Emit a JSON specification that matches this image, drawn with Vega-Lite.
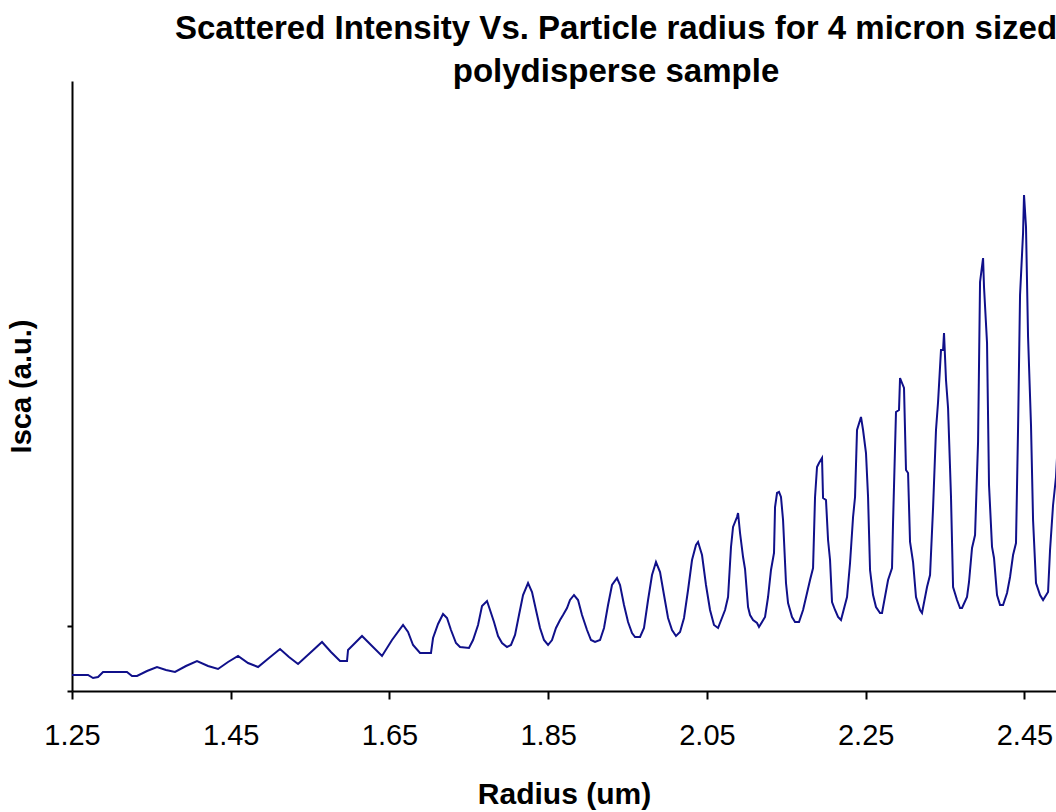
{
  "$schema": "https://vega.github.io/schema/vega-lite/v6.json",
  "width": 984,
  "height": 610,
  "autosize": {"type": "none"},
  "padding": {"left": 72, "top": 81, "right": 0, "bottom": 121},
  "background": "white",
  "config": {"view": {"stroke": null}},
  "title": {
    "text": ["Scattered Intensity Vs. Particle radius for 4 micron sized", "polydisperse sample"],
    "font": "Liberation Sans",
    "fontSize": 33,
    "fontWeight": "bold",
    "color": "black",
    "anchor": "middle",
    "dx": 52,
    "lineHeight": 43,
    "offset": -8
  },
  "data": {
    "values": [
      {"r": 1.25, "i": 16}, {"r": 1.2702, "i": 16}, {"r": 1.2765, "i": 13}, {"r": 1.2828, "i": 14},
      {"r": 1.2891, "i": 19}, {"r": 1.3193, "i": 19}, {"r": 1.3256, "i": 15}, {"r": 1.3319, "i": 15},
      {"r": 1.3445, "i": 20}, {"r": 1.3571, "i": 24}, {"r": 1.3684, "i": 21}, {"r": 1.3798, "i": 19},
      {"r": 1.3936, "i": 25}, {"r": 1.4075, "i": 30}, {"r": 1.4214, "i": 25}, {"r": 1.434, "i": 22},
      {"r": 1.4466, "i": 29}, {"r": 1.4592, "i": 35}, {"r": 1.4718, "i": 28}, {"r": 1.4844, "i": 24},
      {"r": 1.4982, "i": 33}, {"r": 1.5121, "i": 42}, {"r": 1.5234, "i": 34}, {"r": 1.5348, "i": 27},
      {"r": 1.5499, "i": 38}, {"r": 1.565, "i": 49}, {"r": 1.5763, "i": 39}, {"r": 1.5877, "i": 30},
      {"r": 1.5965, "i": 30}, {"r": 1.5978, "i": 41}, {"r": 1.6041, "i": 46}, {"r": 1.6154, "i": 55},
      {"r": 1.628, "i": 45}, {"r": 1.6406, "i": 35}, {"r": 1.6532, "i": 51}, {"r": 1.6671, "i": 66},
      {"r": 1.6734, "i": 59}, {"r": 1.6797, "i": 46}, {"r": 1.6885, "i": 38}, {"r": 1.7023, "i": 38},
      {"r": 1.7049, "i": 53}, {"r": 1.7112, "i": 67}, {"r": 1.7175, "i": 77}, {"r": 1.7225, "i": 73},
      {"r": 1.7275, "i": 61}, {"r": 1.7338, "i": 48}, {"r": 1.7389, "i": 44}, {"r": 1.7502, "i": 43},
      {"r": 1.7553, "i": 51}, {"r": 1.7616, "i": 66}, {"r": 1.7666, "i": 85}, {"r": 1.7729, "i": 90},
      {"r": 1.7767, "i": 81}, {"r": 1.7817, "i": 69}, {"r": 1.7868, "i": 55}, {"r": 1.7918, "i": 48},
      {"r": 1.7981, "i": 44}, {"r": 1.8031, "i": 46}, {"r": 1.8082, "i": 56}, {"r": 1.8132, "i": 76},
      {"r": 1.8183, "i": 96}, {"r": 1.8246, "i": 108}, {"r": 1.8296, "i": 99}, {"r": 1.8346, "i": 81},
      {"r": 1.8397, "i": 63}, {"r": 1.8447, "i": 51}, {"r": 1.8498, "i": 46}, {"r": 1.8548, "i": 51},
      {"r": 1.8598, "i": 63}, {"r": 1.8649, "i": 71}, {"r": 1.8687, "i": 76}, {"r": 1.8737, "i": 83},
      {"r": 1.8775, "i": 91}, {"r": 1.8825, "i": 96}, {"r": 1.8876, "i": 91}, {"r": 1.8926, "i": 76},
      {"r": 1.8989, "i": 61}, {"r": 1.9039, "i": 51}, {"r": 1.909, "i": 49}, {"r": 1.9153, "i": 51},
      {"r": 1.9203, "i": 63}, {"r": 1.9254, "i": 86}, {"r": 1.9304, "i": 106}, {"r": 1.9367, "i": 113},
      {"r": 1.9405, "i": 106}, {"r": 1.9455, "i": 86}, {"r": 1.9506, "i": 69}, {"r": 1.9556, "i": 58},
      {"r": 1.9594, "i": 54}, {"r": 1.9657, "i": 54}, {"r": 1.9707, "i": 63}, {"r": 1.9758, "i": 91},
      {"r": 1.9808, "i": 116}, {"r": 1.9858, "i": 129}, {"r": 1.9909, "i": 119}, {"r": 1.9959, "i": 96},
      {"r": 2.001, "i": 73}, {"r": 2.006, "i": 61}, {"r": 2.011, "i": 55}, {"r": 2.0161, "i": 59},
      {"r": 2.0211, "i": 73}, {"r": 2.0262, "i": 101}, {"r": 2.0312, "i": 131}, {"r": 2.0362, "i": 146},
      {"r": 2.0388, "i": 149}, {"r": 2.0438, "i": 136}, {"r": 2.0488, "i": 106}, {"r": 2.0539, "i": 81},
      {"r": 2.0589, "i": 66}, {"r": 2.064, "i": 63}, {"r": 2.0728, "i": 81}, {"r": 2.0766, "i": 94},
      {"r": 2.0803, "i": 144}, {"r": 2.0829, "i": 164}, {"r": 2.0879, "i": 174}, {"r": 2.0892, "i": 178},
      {"r": 2.0917, "i": 158}, {"r": 2.0955, "i": 134}, {"r": 2.098, "i": 122}, {"r": 2.1018, "i": 84},
      {"r": 2.1043, "i": 76}, {"r": 2.1081, "i": 71}, {"r": 2.1131, "i": 68}, {"r": 2.1156, "i": 64},
      {"r": 2.1232, "i": 74}, {"r": 2.127, "i": 94}, {"r": 2.1307, "i": 121}, {"r": 2.1345, "i": 138},
      {"r": 2.1358, "i": 184}, {"r": 2.1383, "i": 198}, {"r": 2.1408, "i": 199}, {"r": 2.1433, "i": 194},
      {"r": 2.1459, "i": 171}, {"r": 2.1496, "i": 108}, {"r": 2.1522, "i": 88}, {"r": 2.1572, "i": 74},
      {"r": 2.161, "i": 69}, {"r": 2.166, "i": 69}, {"r": 2.1711, "i": 81}, {"r": 2.1761, "i": 98},
      {"r": 2.1799, "i": 111}, {"r": 2.1837, "i": 123}, {"r": 2.1862, "i": 194}, {"r": 2.1887, "i": 224},
      {"r": 2.1912, "i": 228}, {"r": 2.195, "i": 233}, {"r": 2.1963, "i": 193}, {"r": 2.2, "i": 191},
      {"r": 2.2026, "i": 151}, {"r": 2.2051, "i": 131}, {"r": 2.2076, "i": 89}, {"r": 2.2114, "i": 81},
      {"r": 2.2152, "i": 74}, {"r": 2.2189, "i": 71}, {"r": 2.2265, "i": 94}, {"r": 2.2303, "i": 128},
      {"r": 2.2341, "i": 174}, {"r": 2.2366, "i": 194}, {"r": 2.2391, "i": 261}, {"r": 2.2441, "i": 274},
      {"r": 2.2467, "i": 261}, {"r": 2.2504, "i": 238}, {"r": 2.253, "i": 194}, {"r": 2.2555, "i": 121},
      {"r": 2.2593, "i": 96}, {"r": 2.263, "i": 84}, {"r": 2.2681, "i": 78}, {"r": 2.2706, "i": 78},
      {"r": 2.2782, "i": 111}, {"r": 2.2832, "i": 123}, {"r": 2.2845, "i": 169}, {"r": 2.2882, "i": 279},
      {"r": 2.292, "i": 281}, {"r": 2.2933, "i": 313}, {"r": 2.2958, "i": 308}, {"r": 2.2983, "i": 303},
      {"r": 2.3008, "i": 221}, {"r": 2.3034, "i": 218}, {"r": 2.3059, "i": 149}, {"r": 2.3097, "i": 129},
      {"r": 2.3134, "i": 94}, {"r": 2.3185, "i": 81}, {"r": 2.321, "i": 78}, {"r": 2.3273, "i": 104},
      {"r": 2.3311, "i": 116}, {"r": 2.3349, "i": 183}, {"r": 2.3386, "i": 261}, {"r": 2.3412, "i": 289},
      {"r": 2.3449, "i": 341}, {"r": 2.3475, "i": 341}, {"r": 2.3487, "i": 358}, {"r": 2.3512, "i": 311},
      {"r": 2.3538, "i": 283}, {"r": 2.3575, "i": 194}, {"r": 2.3601, "i": 104}, {"r": 2.3651, "i": 91},
      {"r": 2.3689, "i": 83}, {"r": 2.3714, "i": 83}, {"r": 2.3777, "i": 94}, {"r": 2.3802, "i": 109},
      {"r": 2.384, "i": 143}, {"r": 2.3878, "i": 156}, {"r": 2.3916, "i": 249}, {"r": 2.3941, "i": 409},
      {"r": 2.3979, "i": 433}, {"r": 2.3991, "i": 404}, {"r": 2.4029, "i": 348}, {"r": 2.4054, "i": 206},
      {"r": 2.4092, "i": 144}, {"r": 2.4117, "i": 133}, {"r": 2.4155, "i": 96}, {"r": 2.4193, "i": 86},
      {"r": 2.4231, "i": 86}, {"r": 2.4281, "i": 98}, {"r": 2.4319, "i": 114}, {"r": 2.4357, "i": 136},
      {"r": 2.4394, "i": 148}, {"r": 2.442, "i": 263}, {"r": 2.4445, "i": 396}, {"r": 2.4483, "i": 458},
      {"r": 2.4495, "i": 496}, {"r": 2.452, "i": 464}, {"r": 2.4546, "i": 354}, {"r": 2.4583, "i": 266},
      {"r": 2.4609, "i": 171}, {"r": 2.4646, "i": 108}, {"r": 2.4697, "i": 96}, {"r": 2.4735, "i": 91},
      {"r": 2.4798, "i": 99}, {"r": 2.4823, "i": 141}, {"r": 2.4861, "i": 186}, {"r": 2.4898, "i": 214},
      {"r": 2.4949, "i": 291}
    ]
  },
  "mark": {"type": "line", "color": "#10108a", "strokeWidth": 2, "clip": true},
  "encoding": {
    "x": {
      "field": "r",
      "type": "quantitative",
      "scale": {"domain": [1.25, 2.4898], "nice": false, "zero": false},
      "axis": {
        "title": "Radius (um)",
        "values": [1.25, 1.45, 1.65, 1.85, 2.05, 2.25, 2.45],
        "format": ".2f",
        "grid": false,
        "domainColor": "black",
        "domainWidth": 2,
        "tickColor": "black",
        "tickWidth": 2,
        "tickSize": 8,
        "labelFont": "Liberation Sans",
        "labelFontSize": 29,
        "labelColor": "black",
        "labelPadding": 22,
        "labelFlush": false,
        "labelOverlap": false,
        "titleFont": "Liberation Sans",
        "titleFontSize": 30,
        "titleFontWeight": "bold",
        "titleColor": "black",
        "titlePadding": 29
      }
    },
    "y": {
      "field": "i",
      "type": "quantitative",
      "scale": {"domain": [0, 610], "nice": false, "zero": true},
      "axis": {
        "title": "Isca (a.u.)",
        "values": [0, 65],
        "labels": false,
        "grid": false,
        "domainColor": "black",
        "domainWidth": 2,
        "tickColor": "black",
        "tickWidth": 2,
        "tickSize": 5,
        "titleFont": "Liberation Sans",
        "titleFontSize": 29,
        "titleFontWeight": "bold",
        "titleColor": "black",
        "titlePadding": 30
      }
    }
  }
}
